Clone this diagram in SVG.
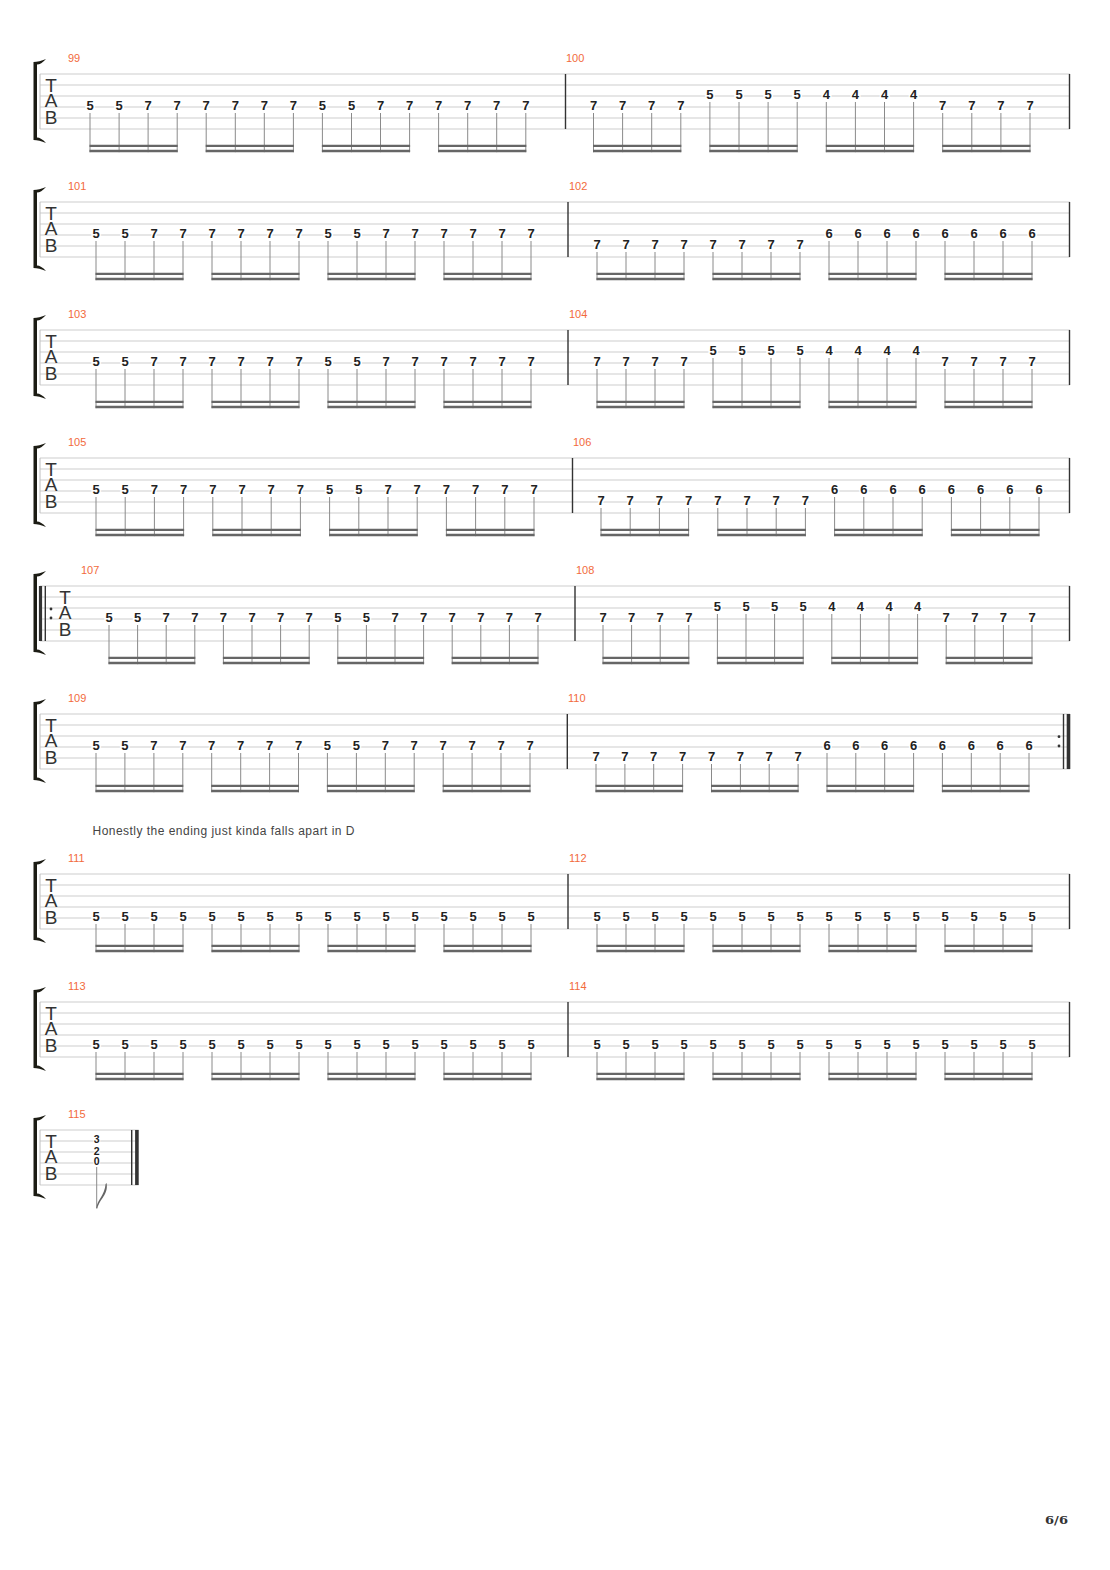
<svg xmlns="http://www.w3.org/2000/svg" xmlns:xlink="http://www.w3.org/1999/xlink" width="1110" height="1570" viewBox="0 0 1110 1570">
<style>
.sl{stroke:#cdcdcd;stroke-width:1;fill:none}
.bar{stroke:#333;stroke-width:1.4;fill:none}
.lb{stroke:#bdbdbd;stroke-width:1;fill:none}
.n{font-family:"Liberation Sans",Arial,sans-serif;font-weight:bold;font-size:13px;fill:#222;text-anchor:middle;stroke:#fff;stroke-width:3;paint-order:stroke}
.nc{font-family:"Liberation Sans",Arial,sans-serif;font-weight:bold;font-size:10.5px;fill:#222;text-anchor:middle;stroke:#fff;stroke-width:2;paint-order:stroke}
.mn{font-family:"Liberation Sans",Arial,sans-serif;font-size:11px;fill:#f26a3c}
.tab{font-family:"Liberation Sans",Arial,sans-serif;font-size:19px;fill:#333;text-anchor:middle}
.stem{stroke:#8a8a8a;stroke-width:1;fill:none}
.beam{stroke:#666;stroke-width:2.3;fill:none}
.brk{fill:#1c1c14}
.txt{font-family:"Liberation Sans",Arial,sans-serif;font-size:12px;fill:#444}
</style>
<defs>
<path id="brk" class="brk" d="M33.5,-12 V66 Q39,66 46,69 Q41,63.5 37,63.5 V-9.5 Q41,-9.5 46,-15 Q39,-12 33.5,-12Z"/>
<path id="staff" class="sl" d="M40 0H1070M40 11H1070M40 22H1070M40 33H1070M40 44H1070M40 55H1070"/>
<g id="tab"><text class="tab" x="51" y="17.7">T</text><text class="tab" x="51" y="33.3">A</text><text class="tab" x="51" y="50">B</text></g>
<g id="tab5"><text class="tab" x="65" y="17.7">T</text><text class="tab" x="65" y="33.3">A</text><text class="tab" x="65" y="50">B</text></g>
</defs>

<g id="frame">
<g id="sys1" transform="translate(0,74)"><use xlink:href="#brk"/><use xlink:href="#staff"/><use xlink:href="#tab"/><path class="lb" d="M40 0V55"/><path class="bar" d="M565.5 0V55M1069.5 0V55"/></g>
<g id="sys2" transform="translate(0,202)"><use xlink:href="#brk"/><use xlink:href="#staff"/><use xlink:href="#tab"/><path class="lb" d="M40 0V55"/><path class="bar" d="M568 0V55M1069.5 0V55"/></g>
<g id="sys3" transform="translate(0,330)"><use xlink:href="#brk"/><use xlink:href="#staff"/><use xlink:href="#tab"/><path class="lb" d="M40 0V55"/><path class="bar" d="M568 0V55M1069.5 0V55"/></g>
<g id="sys4" transform="translate(0,458)"><use xlink:href="#brk"/><use xlink:href="#staff"/><use xlink:href="#tab"/><path class="lb" d="M40 0V55"/><path class="bar" d="M572.5 0V55M1069.5 0V55"/></g>
<g id="sys5" transform="translate(0,586)"><use xlink:href="#brk"/><use xlink:href="#staff"/><use xlink:href="#tab5"/><path d="M40.5 0V55" stroke="#333" stroke-width="3.2"/><path class="bar" d="M45.3 0V55" stroke-width="1"/><circle cx="51" cy="23" r="1.4" fill="#333"/><circle cx="51" cy="32" r="1.4" fill="#333"/><path class="bar" d="M575 0V55M1069.5 0V55"/></g>
<g id="sys6" transform="translate(0,714)"><use xlink:href="#brk"/><use xlink:href="#staff"/><use xlink:href="#tab"/><path class="lb" d="M40 0V55"/><path class="bar" d="M567.3 0V55"/><circle cx="1059" cy="22.7" r="1.4" fill="#333"/><circle cx="1059" cy="32" r="1.4" fill="#333"/><path class="bar" d="M1063.5 0V55" stroke-width="1"/><path d="M1068.5 0V55" stroke="#333" stroke-width="3.6"/></g>
<g id="sys7" transform="translate(0,874)"><use xlink:href="#brk"/><use xlink:href="#staff"/><use xlink:href="#tab"/><path class="lb" d="M40 0V55"/><path class="bar" d="M568 0V55M1069.5 0V55"/></g>
<g id="sys8" transform="translate(0,1002)"><use xlink:href="#brk"/><use xlink:href="#staff"/><use xlink:href="#tab"/><path class="lb" d="M40 0V55"/><path class="bar" d="M568 0V55M1069.5 0V55"/></g>
<g id="sys9" transform="translate(0,1130)"><use xlink:href="#brk"/><path class="sl" d="M40 0H138.7M40 11H138.7M40 22H138.7M40 33H138.7M40 44H138.7M40 55H138.7"/><use xlink:href="#tab"/><path class="lb" d="M40 0V55"/><path class="bar" d="M131.7 0V55" stroke-width="1"/><path d="M136.9 0V55" stroke="#333" stroke-width="3.6"/></g>
</g>

<g id="labels">
<text class="mn" x="68" y="61.7">99</text><text class="mn" x="566" y="61.7">100</text>
<text class="mn" x="68" y="189.7">101</text><text class="mn" x="569" y="189.7">102</text>
<text class="mn" x="68" y="317.7">103</text><text class="mn" x="569" y="317.7">104</text>
<text class="mn" x="68" y="445.7">105</text><text class="mn" x="573" y="445.7">106</text>
<text class="mn" x="81" y="573.7">107</text><text class="mn" x="576" y="573.7">108</text>
<text class="mn" x="68" y="701.7">109</text><text class="mn" x="568" y="701.7">110</text>
<text class="mn" x="68" y="861.7">111</text><text class="mn" x="569" y="861.7">112</text>
<text class="mn" x="68" y="989.7">113</text><text class="mn" x="569" y="989.7">114</text>
<text class="mn" x="68" y="1117.7">115</text>
<text class="txt" x="92.5" y="835" textLength="262" lengthAdjust="spacing">Honestly the ending just kinda falls apart in D</text>
<text x="1045" y="1524" font-family="'DejaVu Serif',serif" font-weight="bold" font-size="11px" fill="#333" textLength="23" lengthAdjust="spacingAndGlyphs">6/6</text>
</g>

<g id="connectors">
<!-- m99 -->
<path class="stem" d="M90 113V152.2M119.1 113V152.2M148.1 113V152.2M177.2 113V152.2M206.2 113V152.2M235.3 113V152.2M264.3 113V152.2M293.4 113V152.2M322.4 113V152.2M351.5 113V152.2M380.5 113V152.2M409.6 113V152.2M438.6 113V152.2M467.7 113V152.2M496.7 113V152.2M525.8 113V152.2"/>
<path class="beam" d="M89.5 145.8H177.7M89.5 151H177.7M205.7 145.8H293.9M205.7 151H293.9M321.9 145.8H410.1M321.9 151H410.1M438.1 145.8H526.3M438.1 151H526.3"/>
<!-- m100 -->
<path class="stem" d="M593.5 113V152.2M622.6 113V152.2M651.7 113V152.2M680.8 113V152.2M709.9 102V152.2M739 102V152.2M768.1 102V152.2M797.2 102V152.2M826.3 102V152.2M855.4 102V152.2M884.5 102V152.2M913.6 102V152.2M942.7 113V152.2M971.8 113V152.2M1000.9 113V152.2M1030 113V152.2"/>
<path class="beam" d="M593 145.8H681.3M593 151H681.3M709.4 145.8H797.7M709.4 151H797.7M825.8 145.8H914.1M825.8 151H914.1M942.2 145.8H1030.5M942.2 151H1030.5"/>
<!-- m101 -->
<path class="stem" d="M96 241V280.2M125 241V280.2M154 241V280.2M183 241V280.2M212 241V280.2M241 241V280.2M270 241V280.2M299 241V280.2M328 241V280.2M357 241V280.2M386 241V280.2M415 241V280.2M444 241V280.2M473 241V280.2M502 241V280.2M531 241V280.2"/>
<path class="beam" d="M95.5 273.8H183.5M95.5 279H183.5M211.5 273.8H299.5M211.5 279H299.5M327.5 273.8H415.5M327.5 279H415.5M443.5 273.8H531.5M443.5 279H531.5"/>
<!-- m102 -->
<path class="stem" d="M597 252V280.2M626 252V280.2M655 252V280.2M684 252V280.2M713 252V280.2M742 252V280.2M771 252V280.2M800 252V280.2M829 241V280.2M858 241V280.2M887 241V280.2M916 241V280.2M945 241V280.2M974 241V280.2M1003 241V280.2M1032 241V280.2"/>
<path class="beam" d="M596.5 273.8H684.5M596.5 279H684.5M712.5 273.8H800.5M712.5 279H800.5M828.5 273.8H916.5M828.5 279H916.5M944.5 273.8H1032.5M944.5 279H1032.5"/>
<!-- m103 -->
<path class="stem" d="M96 369V408.2M125 369V408.2M154 369V408.2M183 369V408.2M212 369V408.2M241 369V408.2M270 369V408.2M299 369V408.2M328 369V408.2M357 369V408.2M386 369V408.2M415 369V408.2M444 369V408.2M473 369V408.2M502 369V408.2M531 369V408.2"/>
<path class="beam" d="M95.5 401.8H183.5M95.5 407H183.5M211.5 401.8H299.5M211.5 407H299.5M327.5 401.8H415.5M327.5 407H415.5M443.5 401.8H531.5M443.5 407H531.5"/>
<!-- m104 -->
<path class="stem" d="M597 369V408.2M626 369V408.2M655 369V408.2M684 369V408.2M713 358V408.2M742 358V408.2M771 358V408.2M800 358V408.2M829 358V408.2M858 358V408.2M887 358V408.2M916 358V408.2M945 369V408.2M974 369V408.2M1003 369V408.2M1032 369V408.2"/>
<path class="beam" d="M596.5 401.8H684.5M596.5 407H684.5M712.5 401.8H800.5M712.5 407H800.5M828.5 401.8H916.5M828.5 407H916.5M944.5 401.8H1032.5M944.5 407H1032.5"/>
<!-- m105 -->
<path class="stem" d="M96 497V536.2M125.2 497V536.2M154.4 497V536.2M183.6 497V536.2M212.8 497V536.2M242 497V536.2M271.2 497V536.2M300.4 497V536.2M329.6 497V536.2M358.8 497V536.2M388 497V536.2M417.2 497V536.2M446.4 497V536.2M475.6 497V536.2M504.8 497V536.2M534 497V536.2"/>
<path class="beam" d="M95.5 529.8H184.1M95.5 535H184.1M212.3 529.8H300.9M212.3 535H300.9M329.1 529.8H417.7M329.1 535H417.7M445.9 529.8H534.5M445.9 535H534.5"/>
<!-- m106 -->
<path class="stem" d="M601 508V536.2M630.2 508V536.2M659.4 508V536.2M688.6 508V536.2M717.8 508V536.2M747 508V536.2M776.2 508V536.2M805.4 508V536.2M834.6 497V536.2M863.8 497V536.2M893 497V536.2M922.2 497V536.2M951.4 497V536.2M980.6 497V536.2M1009.8 497V536.2M1039 497V536.2"/>
<path class="beam" d="M600.5 529.8H689.1M600.5 535H689.1M717.3 529.8H805.9M717.3 535H805.9M834.1 529.8H922.7M834.1 535H922.7M950.9 529.8H1039.5M950.9 535H1039.5"/>
<!-- m107 -->
<path class="stem" d="M109 625V664.2M137.6 625V664.2M166.2 625V664.2M194.8 625V664.2M223.4 625V664.2M252 625V664.2M280.6 625V664.2M309.2 625V664.2M337.8 625V664.2M366.4 625V664.2M395 625V664.2M423.6 625V664.2M452.2 625V664.2M480.8 625V664.2M509.4 625V664.2M538 625V664.2"/>
<path class="beam" d="M108.5 657.8H195.3M108.5 663H195.3M222.9 657.8H309.7M222.9 663H309.7M337.3 657.8H424.1M337.3 663H424.1M451.7 657.8H538.5M451.7 663H538.5"/>
<!-- m108 -->
<path class="stem" d="M603 625V664.2M631.6 625V664.2M660.2 625V664.2M688.8 625V664.2M717.4 614V664.2M746 614V664.2M774.6 614V664.2M803.2 614V664.2M831.8 614V664.2M860.4 614V664.2M889 614V664.2M917.6 614V664.2M946.2 625V664.2M974.8 625V664.2M1003.4 625V664.2M1032 625V664.2"/>
<path class="beam" d="M602.5 657.8H689.3M602.5 663H689.3M716.9 657.8H803.7M716.9 663H803.7M831.3 657.8H918.1M831.3 663H918.1M945.7 657.8H1032.5M945.7 663H1032.5"/>
<!-- m109 -->
<path class="stem" d="M96 753V792.2M124.9 753V792.2M153.9 753V792.2M182.8 753V792.2M211.7 753V792.2M240.7 753V792.2M269.6 753V792.2M298.5 753V792.2M327.4 753V792.2M356.4 753V792.2M385.3 753V792.2M414.2 753V792.2M443.2 753V792.2M472.1 753V792.2M501 753V792.2M530 753V792.2"/>
<path class="beam" d="M95.5 785.8H183.3M95.5 791H183.3M211.2 785.8H299M211.2 791H299M326.9 785.8H414.7M326.9 791H414.7M442.7 785.8H530.5M442.7 791H530.5"/>
<!-- m110 -->
<path class="stem" d="M596 764V792.2M624.9 764V792.2M653.7 764V792.2M682.6 764V792.2M711.5 764V792.2M740.4 764V792.2M769.2 764V792.2M798.1 764V792.2M827 753V792.2M855.8 753V792.2M884.7 753V792.2M913.6 753V792.2M942.4 753V792.2M971.3 753V792.2M1000.2 753V792.2M1029 753V792.2"/>
<path class="beam" d="M595.5 785.8H683.1M595.5 791H683.1M711 785.8H798.6M711 791H798.6M826.5 785.8H914.1M826.5 791H914.1M941.9 785.8H1029.5M941.9 791H1029.5"/>
<!-- m111 -->
<path class="stem" d="M96 924V952.2M125 924V952.2M154 924V952.2M183 924V952.2M212 924V952.2M241 924V952.2M270 924V952.2M299 924V952.2M328 924V952.2M357 924V952.2M386 924V952.2M415 924V952.2M444 924V952.2M473 924V952.2M502 924V952.2M531 924V952.2"/>
<path class="beam" d="M95.5 945.8H183.5M95.5 951H183.5M211.5 945.8H299.5M211.5 951H299.5M327.5 945.8H415.5M327.5 951H415.5M443.5 945.8H531.5M443.5 951H531.5"/>
<!-- m112 -->
<path class="stem" d="M597 924V952.2M626 924V952.2M655 924V952.2M684 924V952.2M713 924V952.2M742 924V952.2M771 924V952.2M800 924V952.2M829 924V952.2M858 924V952.2M887 924V952.2M916 924V952.2M945 924V952.2M974 924V952.2M1003 924V952.2M1032 924V952.2"/>
<path class="beam" d="M596.5 945.8H684.5M596.5 951H684.5M712.5 945.8H800.5M712.5 951H800.5M828.5 945.8H916.5M828.5 951H916.5M944.5 945.8H1032.5M944.5 951H1032.5"/>
<!-- m113 -->
<path class="stem" d="M96 1052V1080.2M125 1052V1080.2M154 1052V1080.2M183 1052V1080.2M212 1052V1080.2M241 1052V1080.2M270 1052V1080.2M299 1052V1080.2M328 1052V1080.2M357 1052V1080.2M386 1052V1080.2M415 1052V1080.2M444 1052V1080.2M473 1052V1080.2M502 1052V1080.2M531 1052V1080.2"/>
<path class="beam" d="M95.5 1073.8H183.5M95.5 1079H183.5M211.5 1073.8H299.5M211.5 1079H299.5M327.5 1073.8H415.5M327.5 1079H415.5M443.5 1073.8H531.5M443.5 1079H531.5"/>
<!-- m114 -->
<path class="stem" d="M597 1052V1080.2M626 1052V1080.2M655 1052V1080.2M684 1052V1080.2M713 1052V1080.2M742 1052V1080.2M771 1052V1080.2M800 1052V1080.2M829 1052V1080.2M858 1052V1080.2M887 1052V1080.2M916 1052V1080.2M945 1052V1080.2M974 1052V1080.2M1003 1052V1080.2M1032 1052V1080.2"/>
<path class="beam" d="M596.5 1073.8H684.5M596.5 1079H684.5M712.5 1073.8H800.5M712.5 1079H800.5M828.5 1073.8H916.5M828.5 1079H916.5M944.5 1073.8H1032.5M944.5 1079H1032.5"/>
<!-- m115 -->
<path class="stem" d="M96.7 1167V1208"/>
<path d="M96.2 1208.5C97.5 1199 104.5 1196 105.6 1184L106.6 1183C108.5 1195 100 1198 97.3 1208.5Z" fill="#666"/>
</g>

<g id="m99">
<text class="n" x="90" y="110">5</text><text class="n" x="119.1" y="110">5</text><text class="n" x="148.1" y="110">7</text><text class="n" x="177.2" y="110">7</text>
<text class="n" x="206.2" y="110">7</text><text class="n" x="235.3" y="110">7</text><text class="n" x="264.3" y="110">7</text><text class="n" x="293.4" y="110">7</text>
<text class="n" x="322.4" y="110">5</text><text class="n" x="351.5" y="110">5</text><text class="n" x="380.5" y="110">7</text><text class="n" x="409.6" y="110">7</text>
<text class="n" x="438.6" y="110">7</text><text class="n" x="467.7" y="110">7</text><text class="n" x="496.7" y="110">7</text><text class="n" x="525.8" y="110">7</text>
</g>
<g id="m100">
<text class="n" x="593.5" y="110">7</text><text class="n" x="622.6" y="110">7</text><text class="n" x="651.7" y="110">7</text><text class="n" x="680.8" y="110">7</text>
<text class="n" x="709.9" y="99">5</text><text class="n" x="739" y="99">5</text><text class="n" x="768.1" y="99">5</text><text class="n" x="797.2" y="99">5</text>
<text class="n" x="826.3" y="99">4</text><text class="n" x="855.4" y="99">4</text><text class="n" x="884.5" y="99">4</text><text class="n" x="913.6" y="99">4</text>
<text class="n" x="942.7" y="110">7</text><text class="n" x="971.8" y="110">7</text><text class="n" x="1000.9" y="110">7</text><text class="n" x="1030" y="110">7</text>
</g>
<g id="m101">
<text class="n" x="96" y="238">5</text><text class="n" x="125" y="238">5</text><text class="n" x="154" y="238">7</text><text class="n" x="183" y="238">7</text>
<text class="n" x="212" y="238">7</text><text class="n" x="241" y="238">7</text><text class="n" x="270" y="238">7</text><text class="n" x="299" y="238">7</text>
<text class="n" x="328" y="238">5</text><text class="n" x="357" y="238">5</text><text class="n" x="386" y="238">7</text><text class="n" x="415" y="238">7</text>
<text class="n" x="444" y="238">7</text><text class="n" x="473" y="238">7</text><text class="n" x="502" y="238">7</text><text class="n" x="531" y="238">7</text>
</g>
<g id="m102">
<text class="n" x="597" y="249">7</text><text class="n" x="626" y="249">7</text><text class="n" x="655" y="249">7</text><text class="n" x="684" y="249">7</text>
<text class="n" x="713" y="249">7</text><text class="n" x="742" y="249">7</text><text class="n" x="771" y="249">7</text><text class="n" x="800" y="249">7</text>
<text class="n" x="829" y="238">6</text><text class="n" x="858" y="238">6</text><text class="n" x="887" y="238">6</text><text class="n" x="916" y="238">6</text>
<text class="n" x="945" y="238">6</text><text class="n" x="974" y="238">6</text><text class="n" x="1003" y="238">6</text><text class="n" x="1032" y="238">6</text>
</g>
<g id="m103">
<text class="n" x="96" y="366">5</text><text class="n" x="125" y="366">5</text><text class="n" x="154" y="366">7</text><text class="n" x="183" y="366">7</text>
<text class="n" x="212" y="366">7</text><text class="n" x="241" y="366">7</text><text class="n" x="270" y="366">7</text><text class="n" x="299" y="366">7</text>
<text class="n" x="328" y="366">5</text><text class="n" x="357" y="366">5</text><text class="n" x="386" y="366">7</text><text class="n" x="415" y="366">7</text>
<text class="n" x="444" y="366">7</text><text class="n" x="473" y="366">7</text><text class="n" x="502" y="366">7</text><text class="n" x="531" y="366">7</text>
</g>
<g id="m104">
<text class="n" x="597" y="366">7</text><text class="n" x="626" y="366">7</text><text class="n" x="655" y="366">7</text><text class="n" x="684" y="366">7</text>
<text class="n" x="713" y="355">5</text><text class="n" x="742" y="355">5</text><text class="n" x="771" y="355">5</text><text class="n" x="800" y="355">5</text>
<text class="n" x="829" y="355">4</text><text class="n" x="858" y="355">4</text><text class="n" x="887" y="355">4</text><text class="n" x="916" y="355">4</text>
<text class="n" x="945" y="366">7</text><text class="n" x="974" y="366">7</text><text class="n" x="1003" y="366">7</text><text class="n" x="1032" y="366">7</text>
</g>
<g id="m105">
<text class="n" x="96" y="494">5</text><text class="n" x="125.2" y="494">5</text><text class="n" x="154.4" y="494">7</text><text class="n" x="183.6" y="494">7</text>
<text class="n" x="212.8" y="494">7</text><text class="n" x="242" y="494">7</text><text class="n" x="271.2" y="494">7</text><text class="n" x="300.4" y="494">7</text>
<text class="n" x="329.6" y="494">5</text><text class="n" x="358.8" y="494">5</text><text class="n" x="388" y="494">7</text><text class="n" x="417.2" y="494">7</text>
<text class="n" x="446.4" y="494">7</text><text class="n" x="475.6" y="494">7</text><text class="n" x="504.8" y="494">7</text><text class="n" x="534" y="494">7</text>
</g>
<g id="m106">
<text class="n" x="601" y="505">7</text><text class="n" x="630.2" y="505">7</text><text class="n" x="659.4" y="505">7</text><text class="n" x="688.6" y="505">7</text>
<text class="n" x="717.8" y="505">7</text><text class="n" x="747" y="505">7</text><text class="n" x="776.2" y="505">7</text><text class="n" x="805.4" y="505">7</text>
<text class="n" x="834.6" y="494">6</text><text class="n" x="863.8" y="494">6</text><text class="n" x="893" y="494">6</text><text class="n" x="922.2" y="494">6</text>
<text class="n" x="951.4" y="494">6</text><text class="n" x="980.6" y="494">6</text><text class="n" x="1009.8" y="494">6</text><text class="n" x="1039" y="494">6</text>
</g>
<g id="m107">
<text class="n" x="109" y="622">5</text><text class="n" x="137.6" y="622">5</text><text class="n" x="166.2" y="622">7</text><text class="n" x="194.8" y="622">7</text>
<text class="n" x="223.4" y="622">7</text><text class="n" x="252" y="622">7</text><text class="n" x="280.6" y="622">7</text><text class="n" x="309.2" y="622">7</text>
<text class="n" x="337.8" y="622">5</text><text class="n" x="366.4" y="622">5</text><text class="n" x="395" y="622">7</text><text class="n" x="423.6" y="622">7</text>
<text class="n" x="452.2" y="622">7</text><text class="n" x="480.8" y="622">7</text><text class="n" x="509.4" y="622">7</text><text class="n" x="538" y="622">7</text>
</g>
<g id="m108">
<text class="n" x="603" y="622">7</text><text class="n" x="631.6" y="622">7</text><text class="n" x="660.2" y="622">7</text><text class="n" x="688.8" y="622">7</text>
<text class="n" x="717.4" y="611">5</text><text class="n" x="746" y="611">5</text><text class="n" x="774.6" y="611">5</text><text class="n" x="803.2" y="611">5</text>
<text class="n" x="831.8" y="611">4</text><text class="n" x="860.4" y="611">4</text><text class="n" x="889" y="611">4</text><text class="n" x="917.6" y="611">4</text>
<text class="n" x="946.2" y="622">7</text><text class="n" x="974.8" y="622">7</text><text class="n" x="1003.4" y="622">7</text><text class="n" x="1032" y="622">7</text>
</g>
<g id="m109">
<text class="n" x="96" y="750">5</text><text class="n" x="124.9" y="750">5</text><text class="n" x="153.9" y="750">7</text><text class="n" x="182.8" y="750">7</text>
<text class="n" x="211.7" y="750">7</text><text class="n" x="240.7" y="750">7</text><text class="n" x="269.6" y="750">7</text><text class="n" x="298.5" y="750">7</text>
<text class="n" x="327.4" y="750">5</text><text class="n" x="356.4" y="750">5</text><text class="n" x="385.3" y="750">7</text><text class="n" x="414.2" y="750">7</text>
<text class="n" x="443.2" y="750">7</text><text class="n" x="472.1" y="750">7</text><text class="n" x="501" y="750">7</text><text class="n" x="530" y="750">7</text>
</g>
<g id="m110">
<text class="n" x="596" y="761">7</text><text class="n" x="624.9" y="761">7</text><text class="n" x="653.7" y="761">7</text><text class="n" x="682.6" y="761">7</text>
<text class="n" x="711.5" y="761">7</text><text class="n" x="740.4" y="761">7</text><text class="n" x="769.2" y="761">7</text><text class="n" x="798.1" y="761">7</text>
<text class="n" x="827" y="750">6</text><text class="n" x="855.8" y="750">6</text><text class="n" x="884.7" y="750">6</text><text class="n" x="913.6" y="750">6</text>
<text class="n" x="942.4" y="750">6</text><text class="n" x="971.3" y="750">6</text><text class="n" x="1000.2" y="750">6</text><text class="n" x="1029" y="750">6</text>
</g>
<g id="m111">
<text class="n" x="96" y="921">5</text><text class="n" x="125" y="921">5</text><text class="n" x="154" y="921">5</text><text class="n" x="183" y="921">5</text>
<text class="n" x="212" y="921">5</text><text class="n" x="241" y="921">5</text><text class="n" x="270" y="921">5</text><text class="n" x="299" y="921">5</text>
<text class="n" x="328" y="921">5</text><text class="n" x="357" y="921">5</text><text class="n" x="386" y="921">5</text><text class="n" x="415" y="921">5</text>
<text class="n" x="444" y="921">5</text><text class="n" x="473" y="921">5</text><text class="n" x="502" y="921">5</text><text class="n" x="531" y="921">5</text>
</g>
<g id="m112">
<text class="n" x="597" y="921">5</text><text class="n" x="626" y="921">5</text><text class="n" x="655" y="921">5</text><text class="n" x="684" y="921">5</text>
<text class="n" x="713" y="921">5</text><text class="n" x="742" y="921">5</text><text class="n" x="771" y="921">5</text><text class="n" x="800" y="921">5</text>
<text class="n" x="829" y="921">5</text><text class="n" x="858" y="921">5</text><text class="n" x="887" y="921">5</text><text class="n" x="916" y="921">5</text>
<text class="n" x="945" y="921">5</text><text class="n" x="974" y="921">5</text><text class="n" x="1003" y="921">5</text><text class="n" x="1032" y="921">5</text>
</g>
<g id="m113">
<text class="n" x="96" y="1049">5</text><text class="n" x="125" y="1049">5</text><text class="n" x="154" y="1049">5</text><text class="n" x="183" y="1049">5</text>
<text class="n" x="212" y="1049">5</text><text class="n" x="241" y="1049">5</text><text class="n" x="270" y="1049">5</text><text class="n" x="299" y="1049">5</text>
<text class="n" x="328" y="1049">5</text><text class="n" x="357" y="1049">5</text><text class="n" x="386" y="1049">5</text><text class="n" x="415" y="1049">5</text>
<text class="n" x="444" y="1049">5</text><text class="n" x="473" y="1049">5</text><text class="n" x="502" y="1049">5</text><text class="n" x="531" y="1049">5</text>
</g>
<g id="m114">
<text class="n" x="597" y="1049">5</text><text class="n" x="626" y="1049">5</text><text class="n" x="655" y="1049">5</text><text class="n" x="684" y="1049">5</text>
<text class="n" x="713" y="1049">5</text><text class="n" x="742" y="1049">5</text><text class="n" x="771" y="1049">5</text><text class="n" x="800" y="1049">5</text>
<text class="n" x="829" y="1049">5</text><text class="n" x="858" y="1049">5</text><text class="n" x="887" y="1049">5</text><text class="n" x="916" y="1049">5</text>
<text class="n" x="945" y="1049">5</text><text class="n" x="974" y="1049">5</text><text class="n" x="1003" y="1049">5</text><text class="n" x="1032" y="1049">5</text>
</g>
<g id="m115">
<text class="nc" x="96.7" y="1143.3">3</text>
<text class="nc" x="96.7" y="1154.8">2</text>
<text class="nc" x="96.7" y="1165">0</text>
</g>
</svg>
